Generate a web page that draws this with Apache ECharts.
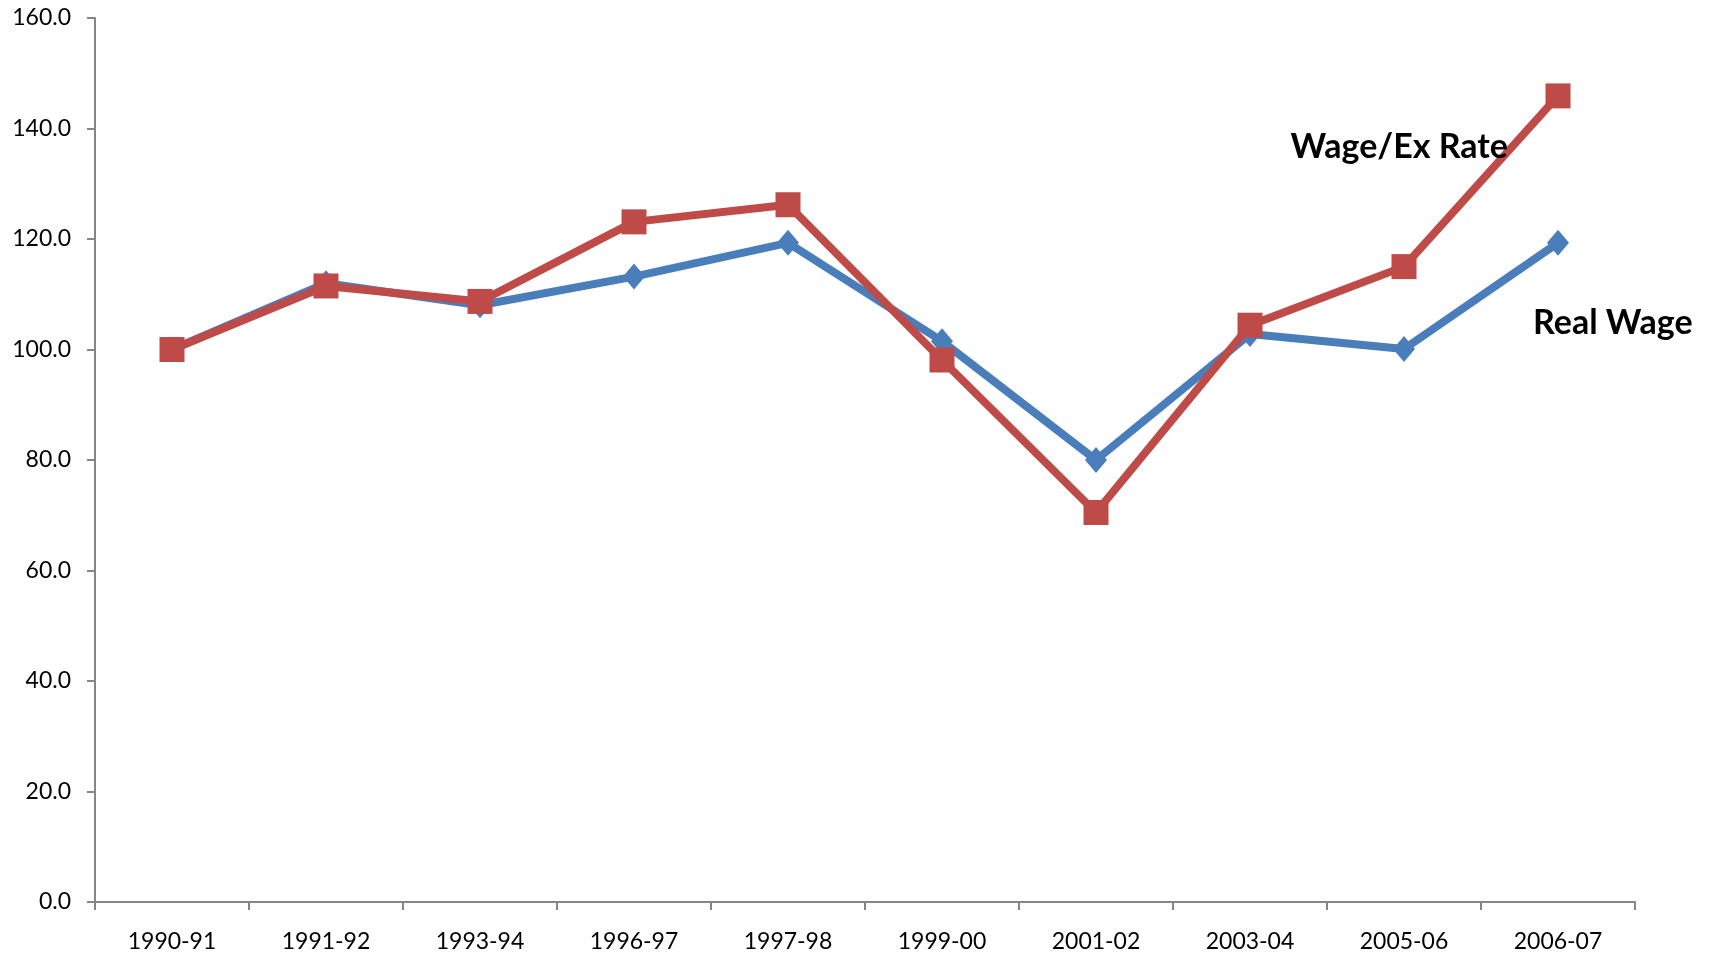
<!DOCTYPE html>
<html>
<head>
<meta charset="utf-8">
<title>Real Wage vs Wage/Ex Rate</title>
<script src="https://cdn.jsdelivr.net/npm/echarts@6/dist/echarts.min.js"></script>
<style>
html, body { margin: 0; padding: 0; background: #fff; }
#chart { width: 1709px; height: 958px; }
</style>
</head>
<body>
<div id="chart"></div>
<script>
// 年度类目
const years = ['1990-91', '1991-92', '1993-94', '1996-97', '1997-98', '1999-00', '2001-02', '2003-04', '2005-06', '2006-07'];
// 实际工资指数
const realWage = [100.0, 112.0, 108.0, 113.2, 119.3, 101.5, 80.0, 102.8, 100.1, 119.3];
// 工资/汇率指数
const wageExRate = [100.0, 111.5, 108.7, 123.1, 126.2, 98.1, 70.5, 104.4, 115.0, 145.9];

const axisGray = '#868686';
const fontFamily = 'Lato, "Open Sans", sans-serif';

const myChart = echarts.init(document.getElementById('chart'));

// 最后一个点带上文字标注
function withEndLabel(arr, text, align, offset) {
    return arr.map((v, i) => {
        if (i !== arr.length - 1) return v;
        return {
            value: v,
            label: {
                show: true,
                formatter: text,
                position: 'inside',
                align: align,
                verticalAlign: 'middle',
                offset: offset,
                color: '#000',
                fontWeight: 'bold',
                fontSize: 34,
                fontFamily: fontFamily
            }
        };
    });
}

const option = {
    animation: false,
    backgroundColor: '#fff',
    grid: {
        left: 95,
        top: 18,
        right: 74,
        bottom: 56,
        containLabel: false
    },
    xAxis: {
        type: 'category',
        data: years,
        boundaryGap: true,
        axisLine: { lineStyle: { color: axisGray, width: 2 } },
        axisTick: { show: true, length: 8, alignWithLabel: false, lineStyle: { color: axisGray, width: 2 } },
        axisLabel: { color: '#000', fontSize: 23, fontFamily: fontFamily, margin: 28, interval: 0 },
        splitLine: { show: false }
    },
    yAxis: {
        type: 'value',
        min: 0,
        max: 160,
        interval: 20,
        axisLine: { show: true, lineStyle: { color: axisGray, width: 2 } },
        axisTick: { show: true, length: 8, lineStyle: { color: axisGray, width: 2 } },
        axisLabel: {
            color: '#000',
            fontSize: 23,
            fontFamily: fontFamily,
            margin: 24,
            formatter: v => v.toFixed(1)
        },
        splitLine: { show: false }
    },
    series: [
        {
            name: 'Real Wage',
            type: 'line',
            data: withEndLabel(realWage, 'Real Wage', 'left', [-25, 80]),
            symbol: 'diamond',
            symbolSize: [22, 26],
            showAllSymbol: true,
            itemStyle: { color: '#4A7EBB' },
            lineStyle: { color: '#4A7EBB', width: 8 },
            z: 2
        },
        {
            name: 'Wage/Ex Rate',
            type: 'line',
            data: withEndLabel(wageExRate, 'Wage/Ex Rate', 'right', [-50, 51]),
            symbol: 'rect',
            symbolSize: 25,
            showAllSymbol: true,
            itemStyle: { color: '#BE4B48' },
            lineStyle: { color: '#BE4B48', width: 8 },
            z: 3
        }
    ]
};

myChart.setOption(option);
</script>
</body>
</html>
